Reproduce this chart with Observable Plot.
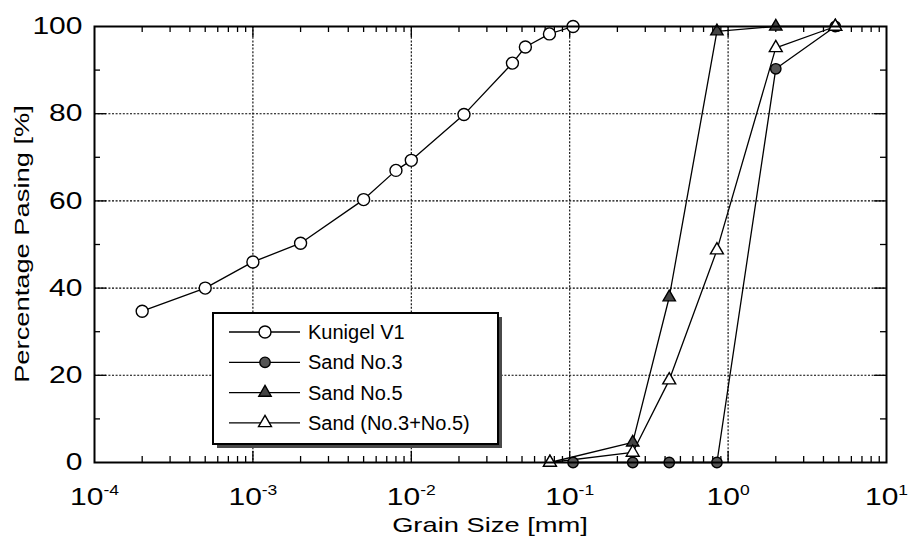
<!DOCTYPE html>
<html><head><meta charset="utf-8">
<script src="https://cdn.jsdelivr.net/npm/d3@7"></script>
<script src="https://cdn.jsdelivr.net/npm/@observablehq/plot@0.6"></script>
<style>
body{margin:0;background:#fff;}
#wrap{width:910px;height:540px;}
</style></head><body><div id="wrap"></div>
<script>
// ---- data ----
const seriesNames = ["Kunigel V1", "Sand No.3", "Sand No.5", "Sand (No.3+No.5)"];
const kunigelSize = [0.0002, 0.0005, 0.001, 0.002, 0.005, 0.008, 0.01, 0.0215, 0.0435, 0.0525, 0.0745, 0.105];
const kunigelPass = [34.7, 40.0, 46.0, 50.3, 60.3, 67.0, 69.3, 79.8, 91.6, 95.3, 98.3, 100];
const sand3Size = [0.105, 0.25, 0.425, 0.85, 2.0, 4.75];
const sand3Pass = [0, 0, 0, 0, 90.3, 100];
const sand5Size = [0.075, 0.25, 0.425, 0.85, 2.0, 4.75];
const sand5Pass = [0, 4.6, 37.9, 98.9, 100, 100];
const mixSize = [0.075, 0.25, 0.425, 0.85, 2.0, 4.75];
const mixPass = [0, 2.3, 18.9, 48.7, 95.1, 100];
const xTicks = [1e-4, 1e-3, 1e-2, 1e-1, 1, 10];
const yTicks = [0, 20, 40, 60, 80, 100];
const yMinor = [10, 30, 50, 70, 90];
const xLabel = "Grain Size [mm]";
const yLabel = "Percentage Pasing [%]";

const xMinor = [];
for (const d of xTicks.slice(0, -1)) for (let k = 2; k <= 9; k++) xMinor.push(d * k);
const xInner = xTicks.slice(1, -1);
const yInner = yTicks.slice(1, -1);

const toRows = (xs, ys, name) => xs.map((x, i) => ({x, y: ys[i], name}));
const K = toRows(kunigelSize, kunigelPass, seriesNames[0]);
const S3 = toRows(sand3Size, sand3Pass, seriesNames[1]);
const S5 = toRows(sand5Size, sand5Pass, seriesNames[2]);
const MX = toRows(mixSize, mixPass, seriesNames[3]);

const styles = [
  {symbol: "circle", r: 6, fill: "#fff"},
  {symbol: "circle", r: 5.2, fill: "#555"},
  {symbol: "triangle", r: 4.6, fill: "#444"},
  {symbol: "triangle", r: 4.8, fill: "#fff"}
];
const sets = [K, S3, S5, MX];

const W = 910, H = 540, mL = 94, mR = 24, mT = 26, mB = 78;
const pw = W - mL - mR, ph = H - mT - mB;
const grid = {stroke: "#000", strokeOpacity: 1, strokeWidth: 1.1, strokeDasharray: "2,1.6"};
const tk = {stroke: "#000", strokeWidth: 1.3};

const marks = [
  Plot.gridX(xInner, grid),
  Plot.gridY(yInner, grid),
  Plot.ruleX(xMinor, {...tk, insetTop: ph - 6}),
  Plot.ruleX(xMinor, {...tk, insetBottom: ph - 6}),
  Plot.ruleX(xInner, {...tk, insetTop: ph - 11}),
  Plot.ruleX(xInner, {...tk, insetBottom: ph - 11}),
  Plot.ruleY(yMinor, {...tk, insetRight: pw - 6}),
  Plot.ruleY(yMinor, {...tk, insetLeft: pw - 6}),
  Plot.ruleY(yInner, {...tk, insetRight: pw - 12}),
  Plot.ruleY(yInner, {...tk, insetLeft: pw - 12}),
  Plot.axisY(yTicks, {tickSize: 0, tickPadding: 12, fontSize: 24, label: null}),
  Plot.axisX(xTicks, {tickSize: 0, tickPadding: 25, fontSize: 24, label: null,
    tickFormat: d => String(Math.round(Math.log10(d)))}),
];
sets.forEach((s) => marks.push(Plot.line(s, {x: "x", y: "y", stroke: "#000", strokeWidth: 1.3})));
sets.forEach((s, i) => marks.push(Plot.dot(s, {x: "x", y: "y", symbol: styles[i].symbol, r: styles[i].r,
  fill: styles[i].fill, stroke: "#000", strokeWidth: 1.4})));
marks.push(Plot.frame({stroke: "#000", strokeWidth: 2}));

const chart = Plot.plot({
  width: W, height: H, marginLeft: mL, marginRight: mR, marginTop: mT, marginBottom: mB,
  x: {type: "log", domain: [1e-4, 10]},
  y: {domain: [0, 100]},
  style: {fontFamily: "'Liberation Sans', Arial, sans-serif", background: "#fff", color: "#000"},
  marks
});
document.getElementById("wrap").appendChild(chart);

const svg = d3.select(chart);
function stretch(el, s) {
  const len = el.getComputedTextLength();
  el.setAttribute("textLength", (len * s).toFixed(1));
  el.setAttribute("lengthAdjust", "spacingAndGlyphs");
}
svg.selectAll('[aria-label="x-axis tick label"] text').each(function () {
  const e = this.textContent;
  const t = d3.select(this);
  t.text(null);
  t.append("tspan").text("10");
  t.append("tspan").attr("font-size", 14).attr("dy", -10).text(e);
});
svg.selectAll('[aria-label="y-axis tick label"] text, [aria-label="x-axis tick label"] text').each(function () { stretch(this, 1.25); });

// axis titles
const xt = svg.append("text").attr("x", mL + pw / 2).attr("y", 532)
  .attr("text-anchor", "middle").attr("font-size", 21).attr("fill", "#000").text(xLabel);
stretch(xt.node(), 1.3);
const yt = svg.append("text").attr("transform", `translate(29,${mT + ph / 2}) rotate(-90)`)
  .attr("text-anchor", "middle").attr("font-size", 21).attr("fill", "#000").text(yLabel);
stretch(yt.node(), 1.3);

// legend box
const lg = svg.append("g").attr("transform", "translate(213,313)").attr("text-anchor", "start");
const bw = 285, bh = 131;
lg.append("rect").attr("x", 4).attr("y", 4).attr("width", bw).attr("height", bh).attr("fill", "#4a4a4a");
lg.append("rect").attr("width", bw).attr("height", bh).attr("fill", "#fff").attr("stroke", "#000").attr("stroke-width", 2);
seriesNames.forEach((name, i) => {
  const y = 19 + i * 30.3;
  lg.append("line").attr("x1", 16).attr("x2", 87).attr("y1", y).attr("y2", y).attr("stroke", "#000").attr("stroke-width", 1.3);
  const st = styles[i];
  const sym = st.symbol === "circle" ? d3.symbolCircle : d3.symbolTriangle;
  lg.append("path").attr("d", d3.symbol(sym, Math.PI * st.r * st.r)())
    .attr("transform", `translate(52,${y})`).attr("fill", st.fill).attr("stroke", "#000").attr("stroke-width", 1.4);
  lg.append("text").attr("x", 95).attr("y", y + 7).attr("font-size", 20).attr("fill", "#000").text(name);
});
</script></body></html>
